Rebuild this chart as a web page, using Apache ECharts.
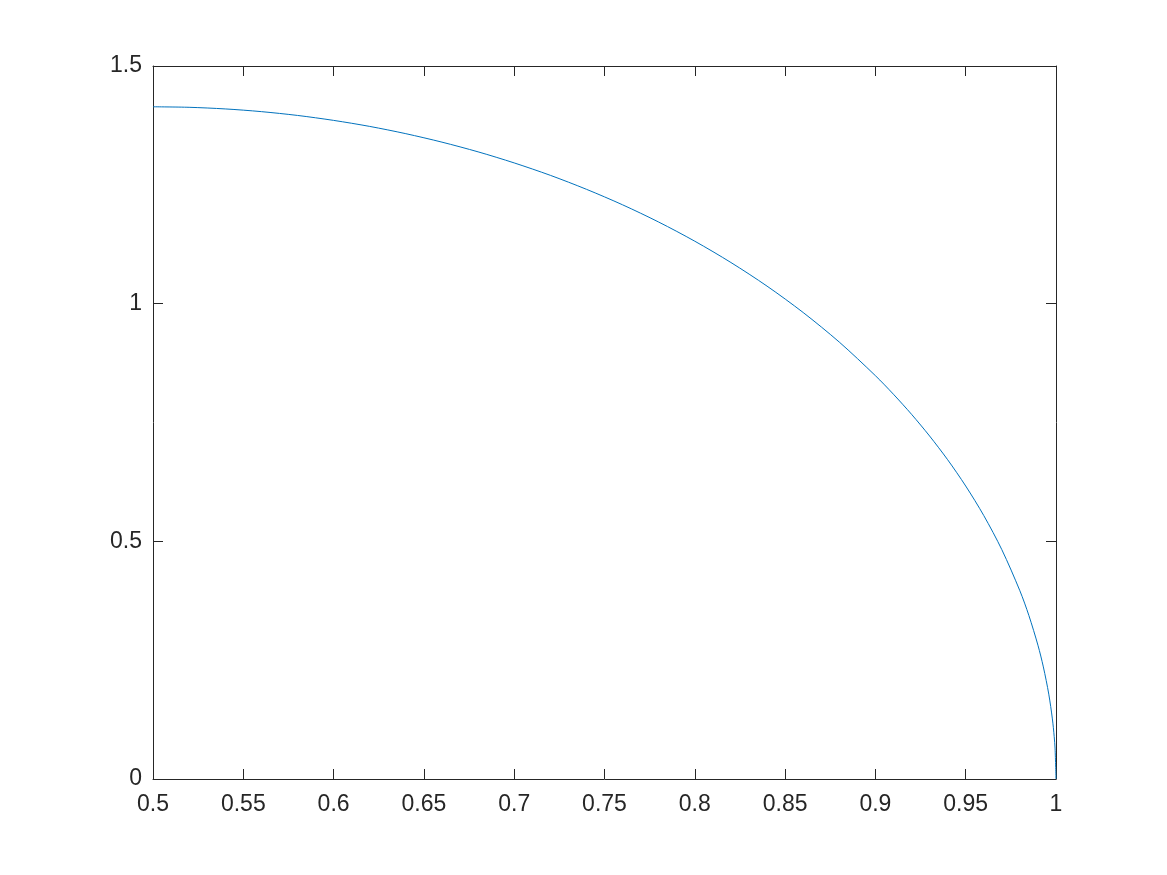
<!DOCTYPE html>
<html>
<head>
<meta charset="utf-8">
<script src="https://cdn.jsdelivr.net/npm/echarts@6/dist/echarts.min.js"></script>
<style>html,body{margin:0;padding:0;background:#fff;}#c{width:1167px;height:875px;}</style>
</head>
<body>
<div id="c"></div>
<script>
const xValues = [0.50,0.52,0.54,0.56,0.58,0.60,0.62,0.64,0.66,0.68,0.70,0.72,0.74,0.76,0.78,0.80,0.82,0.84,0.86,0.88,0.90,0.91,0.92,0.93,0.94,0.95,0.96,0.97,0.98,0.985,0.99,0.993,0.996,0.998,0.999,0.9995,1.0];
const yValues = [1.4142,1.4131,1.4097,1.4040,1.3960,1.3856,1.3729,1.3576,1.3398,1.3194,1.2961,1.2700,1.2406,1.2080,1.1717,1.1314,1.0866,1.0369,0.9814,0.9192,0.8485,0.8094,0.7673,0.7216,0.6717,0.6164,0.5543,0.4825,0.3960,0.3438,0.2814,0.2358,0.1785,0.1264,0.0894,0.0632,0.0];
const xTicks = [0.5,0.55,0.6,0.65,0.7,0.75,0.8,0.85,0.9,0.95,1];
const yTicks = [0,0.5,1,1.5];

const axisColor = '#262626';
const font = 'Liberation Sans, Arial, Helvetica, sans-serif';
const pts = xValues.map((x,i)=>[x,yValues[i]]);

const chart = echarts.init(document.getElementById('c'), null, {renderer:'canvas'});
const baseX = {
  type:'value', min:0.5, max:1, interval:0.05,
  axisLine:{show:true,onZero:false,lineStyle:{color:axisColor,width:1}},
  axisTick:{show:true,inside:true,length:10,lineStyle:{color:axisColor}},
  splitLine:{show:false}
};
const baseY = {
  type:'value', min:0, max:1.5, interval:0.5,
  axisLine:{show:true,onZero:false,lineStyle:{color:axisColor,width:1}},
  axisTick:{show:true,inside:true,length:10,lineStyle:{color:axisColor}},
  splitLine:{show:false}
};
chart.setOption({
  animation:false,
  backgroundColor:'#fff',
  grid:{left:153,right:111,top:66,bottom:96,containLabel:false},
  xAxis:[
    Object.assign({}, baseX, {position:'bottom',
      axisLabel:{show:true,color:axisColor,fontSize:23,fontFamily:font,margin:14,
        formatter:v=>{const t=xTicks.find(k=>Math.abs(k-v)<1e-9);return t===undefined?'':String(t);}}}),
    Object.assign({}, baseX, {position:'top',axisLabel:{show:false}})
  ],
  yAxis:[
    Object.assign({}, baseY, {position:'left',
      axisLabel:{show:true,color:axisColor,fontSize:23,fontFamily:font,margin:11,
        formatter:v=>{const t=yTicks.find(k=>Math.abs(k-v)<1e-9);return t===undefined?'':String(t);}}}),
    Object.assign({}, baseY, {position:'right',axisLabel:{show:false}})
  ],
  series:[{
    type:'line', data:pts, xAxisIndex:0, yAxisIndex:0,
    showSymbol:false, smooth:0.3,
    lineStyle:{color:'#0072BD',width:1},
    clip:true
  }]
});
</script>
</body>
</html>
